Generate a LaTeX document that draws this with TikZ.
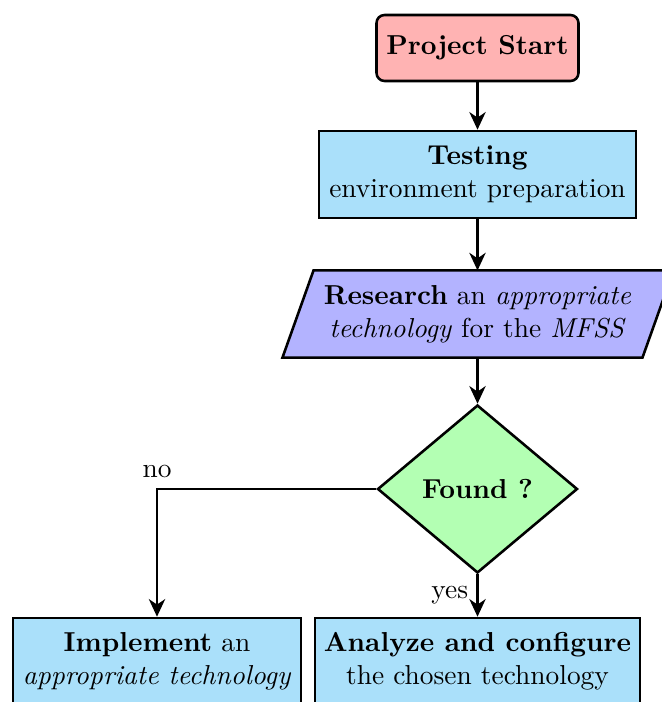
\documentclass[tikz,border=0pt]{standalone}
\usetikzlibrary{shapes.geometric,arrows.meta,backgrounds}
\newcommand\pxu{0.37037pt}
\definecolor{startfill}{RGB}{255,179,179}
\definecolor{boxfill}{RGB}{170,224,250}
\definecolor{iofill}{RGB}{179,179,255}
\definecolor{decfill}{RGB}{179,255,179}
\tikzset{
  base/.style={draw=black, line width=0.95pt, inner sep=0pt, align=center, font=\fontsize{10.15pt}{12.3pt}\selectfont},
  startbox/.style={base, rectangle, rounded corners=3pt, fill=startfill},
  procbox/.style={base, rectangle, fill=boxfill},
  iobox/.style={inner sep=0pt, align=center, font=\fontsize{10.15pt}{12.3pt}\selectfont, rectangle},
  decbox/.style={base, diamond, aspect=1.19, fill=decfill},
  conn/.style={line width=0.95pt, -{Stealth[length=6.5pt,width=6pt,inset=2pt]}},
  lbl/.style={inner sep=0pt, font=\fontsize{10.15pt}{12.3pt}\selectfont}
}
\begin{document}
\begin{tikzpicture}[x=\pxu, y=-\pxu]
\useasboundingbox (0,0) rectangle (662,702);
\node[startbox, minimum width=202*\pxu, minimum height=66*\pxu] (start) at (477.5,48) {\textbf{Project Start}};
\node[procbox, minimum width=317*\pxu, minimum height=87*\pxu] (test) at (477.5,174.5) {\textbf{Testing}\\environment preparation};
\node[iobox, minimum width=330*\pxu, minimum height=86*\pxu] (res) at (477.5,314) {\textbf{Research} an \textit{appropriate}\\\textit{technology} for the \textit{MFSS}};
\begin{scope}[on background layer]
\draw[line width=0.95pt, fill=iofill]
  ([xshift=-195*\pxu]res.south) -- ([xshift=-164*\pxu]res.north)
  -- ([xshift=196*\pxu]res.north) -- ([xshift=165*\pxu]res.south) -- cycle;
\end{scope}
\node[decbox, minimum width=200*\pxu, minimum height=168*\pxu] (found) at (477.5,489) {\textbf{Found ?}};
\node[procbox, minimum width=288*\pxu, minimum height=87*\pxu] (impl) at (157,661.5) {\textbf{Implement} an\\\textit{appropriate technology}};
\node[procbox, minimum width=325*\pxu, minimum height=87*\pxu] (anal) at (477.5,661.5) {\textbf{Analyze and configure}\\the chosen technology};
\draw[conn] (start) -- (test);
\draw[conn] (test) -- (res);
\draw[conn] (res) -- (found);
\draw[conn] (found) -- node[lbl, left=3pt, pos=0.5] (yes) {yes} (anal);
\draw[conn] (found.west) -| node[lbl, above=3.5pt, pos=0.5] (no) {no} (impl.north);
\end{tikzpicture}
\end{document}
